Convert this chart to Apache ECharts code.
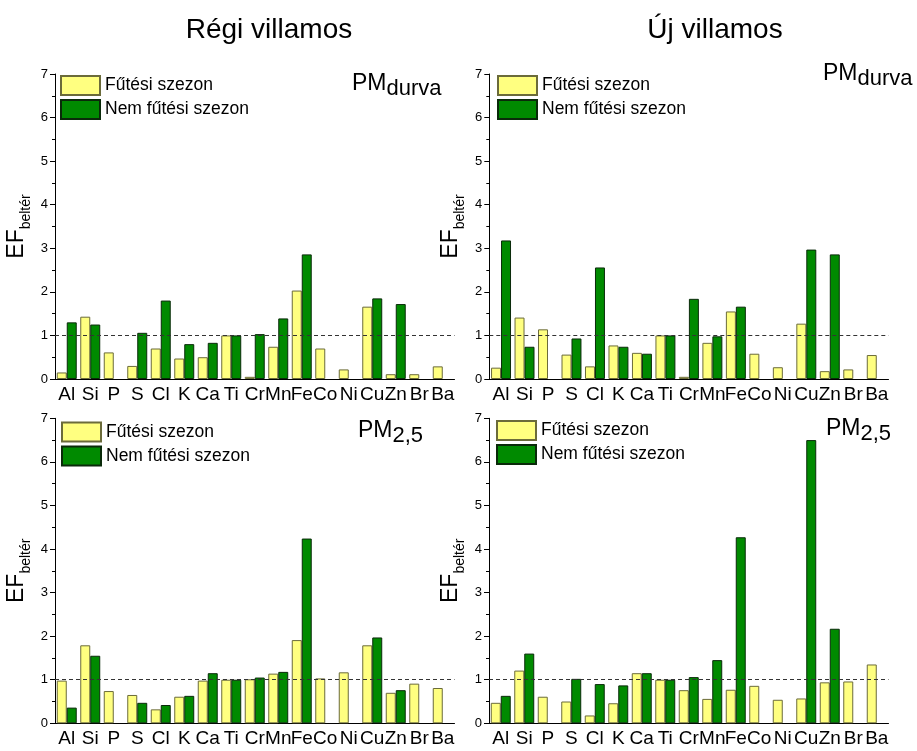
<!DOCTYPE html>
<html>
<head>
<meta charset="utf-8">
<script src="https://cdn.jsdelivr.net/npm/echarts@6/dist/echarts.min.js"></script>
<style>
  html, body { margin: 0; padding: 0; background: #fff; }
  #chart { width: 917px; height: 751px; }
</style>
</head>
<body>
<div id="chart"></div>
<script>
// Elements on the category axis
const elements = ['Al', 'Si', 'P', 'S', 'Cl', 'K', 'Ca', 'Ti', 'Cr', 'Mn', 'Fe', 'Co', 'Ni', 'Cu', 'Zn', 'Br', 'Ba'];

// Indoor enrichment factors (EF_beltér), old tram, coarse fraction
const regiDurvaFutesi    = [0.15, 1.43, 0.61, 0.30, 0.70, 0.47, 0.50, 1.00, 0.05, 0.74, 2.03, 0.70, 0.22, 1.66, 0.11, 0.11, 0.29];
const regiDurvaNemFutesi = [1.30, 1.25, null, 1.06, 1.80, 0.80, 0.83, 1.00, 1.03, 1.39, 2.86, null, null, 1.85, 1.72, null, null];

// New tram, coarse fraction
const ujDurvaFutesi      = [0.26, 1.41, 1.14, 0.56, 0.29, 0.77, 0.60, 1.00, 0.05, 0.83, 1.55, 0.58, 0.27, 1.27, 0.18, 0.22, 0.55];
const ujDurvaNemFutesi   = [3.18, 0.74, null, 0.93, 2.56, 0.74, 0.58, 1.00, 1.84, 0.98, 1.66, null, null, 2.97, 2.86, null, null];

// Old tram, PM2.5
const regiPm25Futesi     = [0.98, 1.79, 0.74, 0.65, 0.32, 0.61, 0.98, 1.00, 1.01, 1.14, 1.91, 1.03, 1.17, 1.79, 0.70, 0.91, 0.81];
const regiPm25NemFutesi  = [0.36, 1.55, null, 0.47, 0.42, 0.63, 1.15, 1.00, 1.05, 1.18, 4.24, null, null, 1.97, 0.76, null, null];

// New tram, PM2.5
const ujPm25Futesi       = [0.47, 1.21, 0.61, 0.50, 0.18, 0.46, 1.15, 1.00, 0.76, 0.56, 0.77, 0.86, 0.54, 0.57, 0.94, 0.96, 1.35];
const ujPm25NemFutesi    = [0.63, 1.60, null, 1.02, 0.90, 0.87, 1.15, 1.00, 1.06, 1.45, 4.27, null, null, 6.50, 2.17, null, null];

// Axis range and reference level
const yMin = 0, yMax = 7, yStep = 1;
const referenceLevel = 1;

const seriesNames = ['Fűtési szezon', 'Nem fűtési szezon'];
const columnTitles = ['Régi villamos', 'Új villamos'];

const FONT = '"Liberation Sans", Arial, Helvetica, sans-serif';
const YELLOW = '#ffff80', YELLOW_EDGE = '#6b6b3a';
const GREEN = '#008a00', GREEN_EDGE = '#0a2a0a';

const panels = [
  { grid: { left: 55,    top: 74,    width: 399.5, height: 305 }, legend: { left: 60,  top: 75 },  a: regiDurvaFutesi, b: regiDurvaNemFutesi, tag: { x: 352, y: 96, sub: 'durva' } },
  { grid: { left: 489.3, top: 74,    width: 399.2, height: 305 }, legend: { left: 497, top: 75 },  a: ujDurvaFutesi,   b: ujDurvaNemFutesi,   tag: { x: 823, y: 86, sub: 'durva' } },
  { grid: { left: 55,    top: 418.3, width: 399.5, height: 305 }, legend: { left: 61,  top: 421.5 }, a: regiPm25Futesi,  b: regiPm25NemFutesi,  tag: { x: 358, y: 443, sub: '2,5' } },
  { grid: { left: 489,   top: 418.3, width: 399.5, height: 305 }, legend: { left: 496, top: 420 }, a: ujPm25Futesi,    b: ujPm25NemFutesi,    tag: { x: 826, y: 441, sub: '2,5' } }
];

const grid = [], xAxis = [], yAxis = [], series = [], legend = [], graphic = [];

panels.forEach((p, i) => {
  grid.push(p.grid);

  // main category axis: ticks under the element names
  xAxis.push({
    type: 'category', gridIndex: i, data: elements,
    axisLine: { lineStyle: { color: '#000', width: 1 } },
    axisTick: { alignWithLabel: true, length: 5, lineStyle: { color: '#000' } },
    axisLabel: { interval: 0, color: '#000', fontSize: 19, fontFamily: FONT, margin: 6 },
    splitLine: { show: false }
  });
  // companion axis: short ticks on category boundaries
  xAxis.push({
    type: 'category', gridIndex: i, data: elements, position: 'bottom',
    axisLine: { show: false },
    axisTick: { alignWithLabel: false, length: 3, lineStyle: { color: '#000' } },
    axisLabel: { show: false },
    splitLine: { show: false }
  });

  yAxis.push({
    type: 'value', gridIndex: i, min: yMin, max: yMax, interval: yStep,
    axisLine: { show: true, lineStyle: { color: '#000', width: 1 } },
    axisTick: { show: true, length: 5, lineStyle: { color: '#000' } },
    minorTick: { show: true, splitNumber: 2, length: 3, lineStyle: { color: '#000' } },
    axisLabel: { color: '#000', fontSize: 13, fontFamily: FONT, margin: 7 },
    splitLine: { show: false },
    name: '{a|EF}{b|beltér}',
    nameLocation: 'middle', nameGap: 22, nameRotate: 90,
    nameTextStyle: {
      fontFamily: FONT, color: '#000',
      rich: {
        a: { fontSize: 23, fontFamily: FONT, color: '#000', verticalAlign: 'bottom', padding: [0, 0, 5, 0] },
        b: { fontSize: 14, fontFamily: FONT, color: '#000', verticalAlign: 'bottom' }
      }
    }
  });

  const xi = i * 2;
  series.push({
    type: 'bar', name: seriesNames[0], xAxisIndex: xi, yAxisIndex: i, data: p.a,
    barGap: '0%', barCategoryGap: '15%',
    itemStyle: { color: YELLOW, borderColor: YELLOW_EDGE, borderWidth: 1 }
  });
  series.push({
    type: 'bar', name: seriesNames[1], xAxisIndex: xi, yAxisIndex: i, data: p.b,
    barGap: '0%', barCategoryGap: '15%',
    itemStyle: { color: GREEN, borderColor: GREEN_EDGE, borderWidth: 1 },
    markLine: {
      silent: true, symbol: 'none', label: { show: false },
      lineStyle: { type: [4, 3], color: '#333', width: 1 },
      data: [{ yAxis: referenceLevel }]
    }
  });

  legend.push({
    left: p.legend.left, top: p.legend.top, orient: 'vertical', padding: 0,
    itemWidth: 39, itemHeight: 19, itemGap: 3, selectedMode: false,
    icon: 'rect',
    data: seriesNames,
    textStyle: { fontSize: 17.5, fontFamily: FONT, color: '#000' }
  });

  graphic.push({
    type: 'text', left: p.tag.x, top: p.tag.y - 24, silent: true,
    style: {
      text: '{a|PM}{b|' + p.tag.sub + '}',
      fontFamily: FONT,
      rich: {
        a: { fontSize: 23, fontFamily: FONT, fill: '#000', verticalAlign: 'bottom', padding: [0, 0, 5, 0] },
        b: { fontSize: 22, fontFamily: FONT, fill: '#000', verticalAlign: 'bottom' }
      }
    }
  });
});

// column headings
[269, 715].forEach((cx, k) => {
  graphic.push({
    type: 'text', x: cx, y: 30, silent: true,
    style: { text: columnTitles[k], fontSize: 28, fontFamily: FONT, fill: '#000', align: 'center', verticalAlign: 'middle' }
  });
});

const chart = echarts.init(document.getElementById('chart'), null, { renderer: 'canvas' });
chart.setOption({
  animation: false,
  backgroundColor: '#fff',
  grid, xAxis, yAxis, series, legend, graphic
});
</script>
</body>
</html>
